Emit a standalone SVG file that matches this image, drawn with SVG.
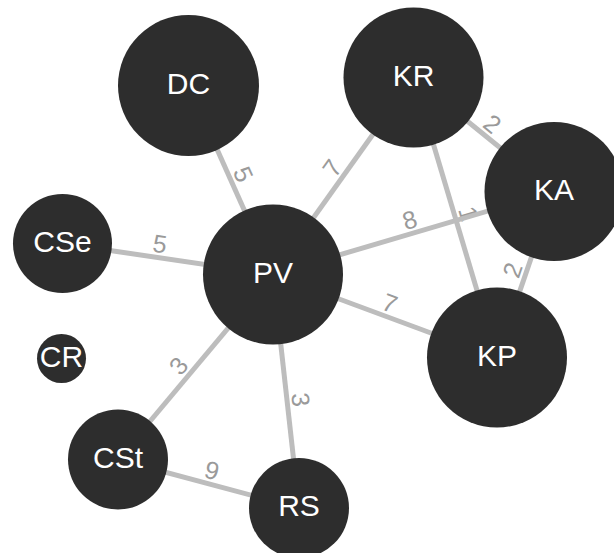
<svg xmlns="http://www.w3.org/2000/svg" width="614" height="553" viewBox="0 0 614 553">
<style>
.edge{stroke:#bdbdbd;stroke-width:5;fill:none}
.elabel{font-family:"Liberation Sans",Arial,sans-serif;font-size:25px;fill:#9a9a9a;text-anchor:middle}
.node circle{fill:#2d2d2d}
.node text{font-family:"Liberation Sans",Arial,sans-serif;font-size:30px;fill:#ffffff;text-anchor:middle}
</style>
<rect width="614" height="553" fill="#ffffff"/>
<g id="edge-labels">
<text class="elabel" transform="translate(230.75,180) rotate(65.9)" y="-5">5</text>
<text class="elabel" transform="translate(343.25,176) rotate(-54.5)" y="-5">7</text>
<text class="elabel" transform="translate(483.75,134.5) rotate(39.06)" y="-5">2</text>
<text class="elabel" transform="translate(455.25,217.5) rotate(73.4)" y="-5">1</text>
<text class="elabel" transform="translate(413.5,233) rotate(-16.46)" y="-5">8</text>
<text class="elabel" transform="translate(525.5,274.5) rotate(-71.05)" y="-5">2</text>
<text class="elabel" transform="translate(157.86,257.55) rotate(8.38)" y="-5">5</text>
<text class="elabel" transform="translate(385,316) rotate(20.33)" y="-5">7</text>
<text class="elabel" transform="translate(189.08,374.67) rotate(-50.04)" y="-5">3</text>
<text class="elabel" transform="translate(287.11,401.19) rotate(83.65)" y="-5">3</text>
<text class="elabel" transform="translate(208.5,483.75) rotate(15)" y="-5">9</text>
</g>
<g id="connectors">
<line class="edge" x1="188.5" y1="85.5" x2="273" y2="274.5"/>
<line class="edge" x1="273" y1="274.5" x2="413.5" y2="77.5"/>
<line class="edge" x1="413.5" y1="77.5" x2="554" y2="191.5"/>
<line class="edge" x1="413.5" y1="77.5" x2="497" y2="357.5"/>
<line class="edge" x1="273" y1="274.5" x2="554" y2="191.5"/>
<line class="edge" x1="497" y1="357.5" x2="554" y2="191.5"/>
<line class="edge" x1="62.5" y1="243.5" x2="273" y2="274.5"/>
<line class="edge" x1="273" y1="274.5" x2="497" y2="357.5"/>
<line class="edge" x1="118" y1="459.5" x2="273" y2="274.5"/>
<line class="edge" x1="273" y1="274.5" x2="299" y2="508"/>
<line class="edge" x1="118" y1="459.5" x2="299" y2="508"/>
</g>
<g id="node-DC" class="node"><circle cx="188.5" cy="85.5" r="70.5"/><text x="188.5" y="93.5">DC</text></g>
<g id="node-KR" class="node"><circle cx="413.5" cy="77.5" r="70"/><text x="413.5" y="85.5">KR</text></g>
<g id="node-KA" class="node"><circle cx="554" cy="191.5" r="69.5"/><text x="554" y="199.5">KA</text></g>
<g id="node-CSe" class="node"><circle cx="62.5" cy="243.5" r="49.5"/><text x="62.5" y="251.5">CSe</text></g>
<g id="node-PV" class="node"><circle cx="273" cy="274.5" r="70"/><text x="273" y="282.5">PV</text></g>
<g id="node-CR" class="node"><circle cx="61.5" cy="358.5" r="24.5"/><text x="61.5" y="366.5">CR</text></g>
<g id="node-KP" class="node"><circle cx="497" cy="357.5" r="70"/><text x="497" y="365.5">KP</text></g>
<g id="node-CSt" class="node"><circle cx="118" cy="459.5" r="50"/><text x="118" y="467.5">CSt</text></g>
<g id="node-RS" class="node"><circle cx="299" cy="508" r="50"/><text x="299" y="516">RS</text></g>
</svg>
